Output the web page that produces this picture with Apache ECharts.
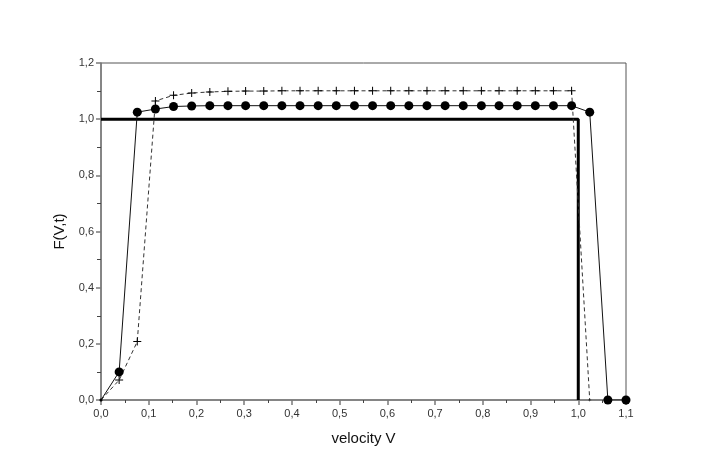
<!DOCTYPE html>
<html>
<head>
<meta charset="utf-8">
<script src="https://cdn.jsdelivr.net/npm/echarts@6/dist/echarts.min.js"></script>
<style>
html,body{margin:0;padding:0;background:#fff;}
#chart{width:708px;height:474px;}
</style>
</head>
<body>
<div id="chart"></div>
<script>
// velocity grid (x values of the computed points)
var velocity = [0, 0.038, 0.076, 0.114, 0.152, 0.19, 0.228, 0.266, 0.303, 0.341,
  0.379, 0.417, 0.455, 0.493, 0.531, 0.569, 0.607, 0.645, 0.683, 0.721,
  0.759, 0.797, 0.834, 0.872, 0.91, 0.948, 0.986, 1.024, 1.062, 1.1];

// series with filled circles
var dotsF = [0, 0.10, 1.025, 1.036, 1.045, 1.047, 1.048, 1.048, 1.048, 1.048,
  1.048, 1.048, 1.048, 1.048, 1.048, 1.048, 1.048, 1.048, 1.048, 1.048,
  1.048, 1.048, 1.048, 1.048, 1.048, 1.048, 1.048, 1.025, 0, 0];

// series with plus markers (ends at 1.024)
var plusF = [0, 0.071, 0.208, 1.065, 1.085, 1.093, 1.097, 1.099, 1.10, 1.10,
  1.101, 1.101, 1.101, 1.101, 1.101, 1.101, 1.101, 1.101, 1.101, 1.101,
  1.101, 1.101, 1.101, 1.101, 1.101, 1.101, 1.101, 0];

// exact step solution
var stepV = [0, 1.0, 1.0];
var stepF = [1.0, 1.0, 0];

var xTicks = {min: 0, max: 1.1, interval: 0.1};
var yTicks = {min: 0, max: 1.2, interval: 0.2};

function pairs(xs, ys) {
  var out = [];
  for (var i = 0; i < ys.length; i++) out.push([xs[i], ys[i]]);
  return out;
}
function fmt(v) { return v.toFixed(1).replace('.', ','); }

var plusPath = 'path://M3.5,0h1v8h-1z M0,3.5h8v1h-8z';
var axisGrey = '#7a7a7a';
var fontFam = '"Liberation Sans", Arial, sans-serif';

var chart = echarts.init(document.getElementById('chart'), null, {renderer: 'canvas'});
chart.setOption({
  animation: false,
  backgroundColor: '#ffffff',
  grid: {left: 101, right: 82, top: 63, bottom: 74, show: true, borderColor: '#555', borderWidth: 1},
  xAxis: {
    type: 'value', min: xTicks.min, max: xTicks.max, interval: xTicks.interval,
    name: 'velocity V', nameLocation: 'middle', nameGap: 31,
    nameTextStyle: {fontFamily: fontFam, fontSize: 15, color: '#111'},
    axisLine: {show: true, onZero: false, lineStyle: {color: axisGrey, width: 1.5}},
    axisTick: {show: true, inside: false, length: 5, lineStyle: {color: axisGrey, width: 1.5}},
    minorTick: {show: true, splitNumber: 2, length: 3, lineStyle: {color: '#444', width: 1}},
    splitLine: {show: false},
    axisLabel: {formatter: fmt, fontFamily: fontFam, fontSize: 11, color: '#333', margin: 8}
  },
  yAxis: {
    type: 'value', min: yTicks.min, max: yTicks.max, interval: yTicks.interval,
    name: 'F(V,t)', nameLocation: 'middle', nameGap: 34, nameRotate: 90,
    nameTextStyle: {fontFamily: fontFam, fontSize: 15, color: '#111'},
    axisLine: {show: true, onZero: false, lineStyle: {color: axisGrey, width: 1.5}},
    axisTick: {show: true, inside: false, length: 5, lineStyle: {color: axisGrey, width: 1.5}},
    minorTick: {show: true, splitNumber: 2, length: 4, lineStyle: {color: '#444', width: 1}},
    splitLine: {show: false},
    axisLabel: {formatter: fmt, fontFamily: fontFam, fontSize: 11, color: '#333', margin: 7}
  },
  series: [
    {
      type: 'line', name: 'exact', data: pairs(stepV, stepF),
      symbol: 'none', z: 3,
      lineStyle: {color: '#000', width: 3}
    },
    {
      type: 'line', name: 'plus', data: pairs(velocity, plusF),
      symbol: plusPath,
      symbolSize: function (v, p) { return (p.dataIndex === 0 || v[1] === 0) ? 3 : 8; },
      itemStyle: {color: '#000'},
      lineStyle: {color: '#333', width: 1, type: [4, 3]},
      z: 4
    },
    {
      type: 'line', name: 'dots', data: pairs(velocity, dotsF),
      symbol: 'circle',
      symbolSize: function (v, p) { return p.dataIndex === 0 ? 3 : 9; },
      itemStyle: {color: '#000'},
      lineStyle: {color: '#111', width: 1},
      z: 5
    }
  ]
});
</script>
</body>
</html>
